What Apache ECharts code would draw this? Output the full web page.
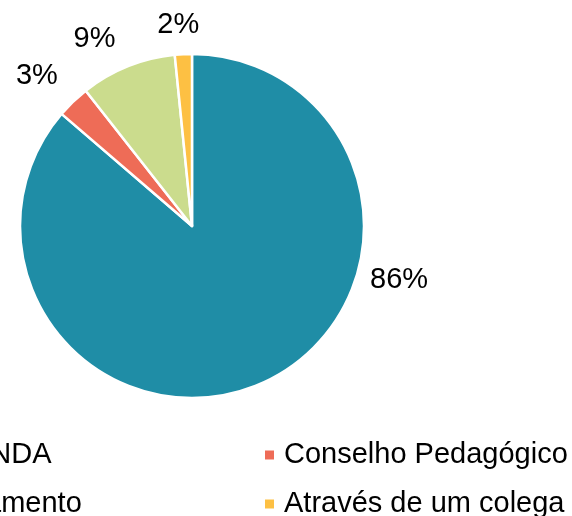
<!DOCTYPE html>
<html>
<head>
<meta charset="utf-8">
<script src="https://cdn.jsdelivr.net/npm/echarts@6/dist/echarts.min.js"></script>
<style>
  html, body { margin: 0; padding: 0; background: #fff; }
  #chart { width: 572px; height: 516px; }
</style>
</head>
<body>
<div id="chart"></div>
<script>
const categories = ['AGENDA', 'Conselho Pedagógico', 'Departamento', 'Através de um colega'];
const shares = [86.3, 3.1, 9.0, 1.6];
const colors = ['#1f8da6', '#ee6c57', '#cbdc8d', '#fdc043'];

const cx = 192, cy = 226, radius = 172;
// where each % label sits (angle clockwise from 12 o'clock, distance from centre)
const labelAngle = [104.6, 314.1, 332.5, 356.1];
const labelDist = [214, 216, 211, 201];

const chart = echarts.init(document.getElementById('chart'));

// one legend block per visible entry, the left ones run off the canvas edge
function legendItem(name, left, top) {
  return {
    orient: 'vertical',
    left: left,
    top: top,
    height: 100,
    padding: 0,
    icon: 'rect',
    itemWidth: 11,
    itemHeight: 11,
    selectedMode: false,
    textStyle: {
      fontFamily: 'Liberation Sans, Arial, sans-serif',
      fontSize: 29,
      lineHeight: 30,
      color: '#000',
      padding: [0, 0, 0, 4]
    },
    data: [name]
  };
}

chart.setOption({
  animation: false,
  color: colors,
  legend: [
    legendItem(categories[0], -92, 440),
    legendItem(categories[1], 263, 440),
    legendItem(categories[2], -123, 489),
    legendItem(categories[3], 263, 489)
  ],
  series: [{
    type: 'pie',
    center: [cx, cy],
    radius: radius,
    startAngle: 90,
    clockwise: true,
    avoidLabelOverlap: false,
    itemStyle: { borderColor: '#fff', borderWidth: 2.5 },
    label: {
      show: true,
      position: 'outside',
      formatter: '{d}%',
      fontFamily: 'Liberation Sans, Arial, sans-serif',
      fontSize: 29,
      color: '#000'
    },
    labelLine: { show: false },
    percentPrecision: 0,
    labelLayout: function (params) {
      const i = params.dataIndex;
      const a = labelAngle[i] * Math.PI / 180;
      return {
        x: cx + labelDist[i] * Math.sin(a),
        y: cy - labelDist[i] * Math.cos(a),
        align: 'center',
        verticalAlign: 'middle'
      };
    },
    emphasis: { disabled: true },
    data: categories.map((name, i) => ({ name: name, value: shares[i] }))
  }]
});
</script>
</body>
</html>
